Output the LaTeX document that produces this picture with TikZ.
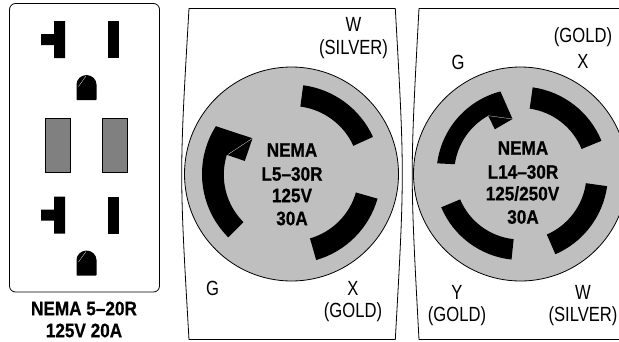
\documentclass[tikz,border=0pt]{standalone}
\usepackage{fontspec}
\setmainfont[FakeStretch=0.81]{Liberation Sans}
\newfontfamily\boldlabel[FakeStretch=0.88,FakeBold=0.6]{Liberation Sans Bold}
\tikzset{
  x=1pt,y=1pt,
  lab/.style={inner sep=0pt,font=\fontsize{20.5}{20.5}\selectfont},
  blab/.style={inner sep=0pt,font=\boldlabel\fontsize{19.5}{19.5}\selectfont},
  plate/.style={draw=black,line width=0.8pt},
  spark/.style={draw=white,line width=0.25pt},
  disc/.style={fill=black!25,draw=black,line width=0.8pt},
  slot/.style={fill=black!50,draw=black,line width=0.8pt}
}
\newcommand{\ringseg}[4]{\fill[black] (#1:#3) arc[start angle=#1,end angle=#2,radius=#3] -- (#2:#4) arc[start angle=#2,end angle=#1,radius=#4] -- cycle;}
\newcommand{\outletset}[1]{%
  \begin{scope}[shift={(0,#1)}]
    \fill[black] (54,-21) -- (65,-21) -- (65,-58) -- (54,-58) -- (54,-45) -- (41,-45) -- (41,-34) -- (54,-34) -- cycle;
    \fill[black] (108,-21) rectangle (119,-58);
    \fill[black,rounded corners=0.6pt] (76.5,-100) -- (76.5,-85) -- (76.5,-85) arc[start angle=180,end angle=0,radius=10] -- (96.5,-100) -- cycle;
    \draw[spark] (78.5,-86.5) -- (86,-76);
  \end{scope}}
\begin{document}
\begin{tikzpicture}
\useasboundingbox (0,0) rectangle (619,-341);
% duplex plate
\draw[plate,rounded corners=6pt] (9.5,-3.5) rectangle (159.5,-292);
\outletset{0}
\outletset{-175.5}
\draw[slot] (45.5,-118) rectangle (70,-172);
\draw[slot] (102.5,-118) rectangle (127,-172);
\node[blab] (t1) at (84,-308.5) {NEMA 5–20R};
\node[blab] (t2) at (84,-330.5) {125V 20A};
% panel 1
\draw[plate] (189,-8.5) -- (395.3,-8.5) .. controls (404.6,-174) .. (395.3,-339.5) -- (189,-339.5) .. controls (179.3,-174) .. (189,-8.5) -- cycle;
\draw[disc] (291.5,-174) circle[radius=107];
\begin{scope}[shift={(291.5,-174)}]
  \ringseg{24.5}{82.5}{89.5}{68}
  \ringseg{-16}{-74}{89.5}{67}
  \fill[black] (147.7:89.5) arc[start angle=147.7,end angle=225,radius=89.5] -- (225:68) arc[start angle=225,end angle=162.7,radius=67] -- (-46.7,13) -- (-39,35.7) -- cycle;
\end{scope}
\coordinate (a1) at (228.2,-154.3);
\coordinate (a2) at (252.5,-138.3);
\draw[spark] (a1) -- (a2);
\node[lab] (p1a) at (353.5,-24) {W};
\node[lab] (p1b) at (353.5,-49) {(SILVER)};
\node[lab] (p1c) at (212.7,-288) {G};
\node[lab] (p1d) at (353,-288) {X};
\node[lab] (p1e) at (353,-312) {(GOLD)};
\node[blab] (p1f) at (292,-150) {NEMA};
\node[blab] (p1g) at (292,-174) {L5–30R};
\node[blab] (p1h) at (292,-195.5) {125V};
\node[blab] (p1i) at (292,-218.5) {30A};
% panel 2
\begin{scope}
\clip (400,0) rectangle (619,-341);
\draw[plate] (630,-8.5) -- (419,-8.5) .. controls (410,-174) .. (419,-339.5) -- (630,-339.5);
\draw[disc] (520.5,-174) circle[radius=107];
\begin{scope}[shift={(520.5,-174)}]
  \ringseg{22.3}{82}{87.5}{66}
  \ringseg{-8}{-66.5}{87.5}{66}
  \ringseg{202.8}{264}{86}{65.5}
  \fill[black] (172.7:84) arc[start angle=172.7,end angle=104.6,radius=85.5] -- (-8,55) -- (-25.7,44.7) -- (-32.3,58.3) arc[start angle=119,end angle=172,radius=66] -- cycle;
\end{scope}
\coordinate (b1) at (488.2,-115.7);
\coordinate (b2) at (512.5,-119);
\draw[spark] (b1) -- (b2);
\end{scope}
\node[lab] (p2a) at (583,-37) {(GOLD)};
\node[lab] (p2b) at (583,-61) {X};
\node[lab] (p2c) at (458,-62) {G};
\node[lab] (p2d) at (457,-292) {Y};
\node[lab] (p2e) at (457,-316) {(GOLD)};
\node[lab] (p2f) at (583,-292) {W};
\node[lab] (p2g) at (583,-316) {(SILVER)};
\node[blab] (p2h) at (523,-148) {NEMA};
\node[blab] (p2i) at (523,-172) {L14–30R};
\node[blab] (p2j) at (522.5,-193.5) {125/250V};
\node[blab] (p2k) at (523,-217) {30A};
\end{tikzpicture}
\end{document}
